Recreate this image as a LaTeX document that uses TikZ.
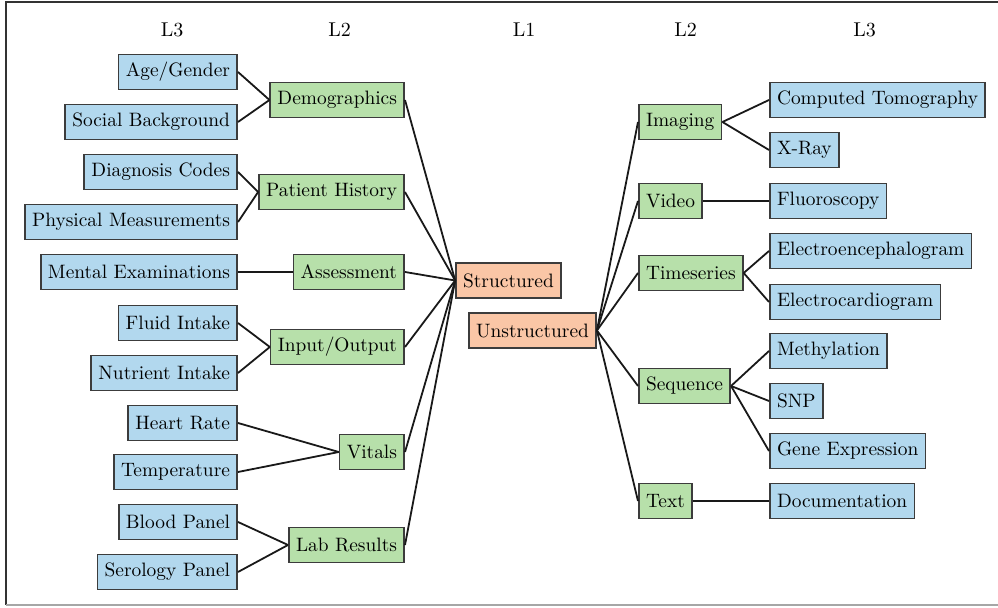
\documentclass[tikz,border=0pt]{standalone}
\usepackage{xcolor}
\definecolor{leafblue}{RGB}{178,216,238}
\definecolor{midgreen}{RGB}{183,224,170}
\definecolor{rootorange}{RGB}{250,198,166}
\definecolor{boxline}{RGB}{60,60,60}
\begin{document}
\begin{tikzpicture}[x=0.5pt,y=-0.5pt,
  box/.style={draw=boxline,line width=0.8pt,minimum height=17.5pt,inner xsep=3.6pt,inner ysep=0pt,font=\fontsize{9.7}{11.5}\selectfont},
  leaf/.style={box,fill=leafblue},
  mid/.style={box,fill=midgreen},
  root/.style={box,fill=rootorange},
  head/.style={font=\fontsize{10}{12}\selectfont},
  link/.style={line width=0.9pt,black!90}]
\useasboundingbox (0,0) rectangle (998,608);
% frame
\draw[line width=0.9pt,black!80] (6,605) -- (6,2) -- (998,2);
\draw[line width=0.9pt,black!35] (6,605) -- (998,605);

% column headings
\node[head] (h1) at (172,30) {L3};
\node[head] (h2) at (339.5,30) {L2};
\node[head] (h3) at (524,30) {L1};
\node[head] (h4) at (685.5,30) {L2};
\node[head] (h5) at (864.5,30) {L3};

% level 1
\node[root] (st) at (508.5,280.5) {Structured};
\node[root] (un) at (532.5,330.5) {Unstructured};

% level 2, structured side
\node[mid,anchor=east] (demo) at (405,100) {Demographics};
\node[mid,anchor=east] (hist) at (405,192) {Patient History};
\node[mid,anchor=east] (asse) at (405,272) {Assessment};
\node[mid,anchor=east] (inout) at (405,347) {Input/Output};
\node[mid,anchor=east] (vit) at (405,452) {Vitals};
\node[mid,anchor=east] (lab) at (405,545) {Lab Results};

% level 3, structured side
\node[leaf,anchor=east] (age) at (238,72) {Age/Gender};
\node[leaf,anchor=east] (soc) at (238,122) {Social Background};
\node[leaf,anchor=east] (diag) at (238,172) {Diagnosis Codes};
\node[leaf,anchor=east] (phys) at (238,222) {Physical Measurements};
\node[leaf,anchor=east] (ment) at (238,272) {Mental Examinations};
\node[leaf,anchor=east] (flu) at (238,323) {Fluid Intake};
\node[leaf,anchor=east] (nut) at (238,373) {Nutrient Intake};
\node[leaf,anchor=east] (hr) at (238,423) {Heart Rate};
\node[leaf,anchor=east] (temp) at (238,472) {Temperature};
\node[leaf,anchor=east] (blood) at (238,522) {Blood Panel};
\node[leaf,anchor=east] (sero) at (238,572) {Serology Panel};

% level 2, unstructured side
\node[mid,anchor=west] (img) at (638,122) {Imaging};
\node[mid,anchor=west] (vid) at (638,201) {Video};
\node[mid,anchor=west] (ts) at (638,273) {Timeseries};
\node[mid,anchor=west] (seq) at (638,386) {Sequence};
\node[mid,anchor=west] (txt) at (638,501) {Text};

% level 3, unstructured side
\node[leaf,anchor=west] (ct) at (769,100) {Computed Tomography};
\node[leaf,anchor=west] (xr) at (769,150) {X-Ray};
\node[leaf,anchor=west] (fl) at (769,201) {Fluoroscopy};
\node[leaf,anchor=west] (eeg) at (769,251) {Electroencephalogram};
\node[leaf,anchor=west] (ecg) at (769,302) {Electrocardiogram};
\node[leaf,anchor=west] (met) at (769,351) {Methylation};
\node[leaf,anchor=west] (snp) at (769,401) {SNP};
\node[leaf,anchor=west] (gex) at (769,451) {Gene Expression};
\node[leaf,anchor=west] (doc) at (769,501) {Documentation};

% links L1 -- L2
\foreach \n in {demo,hist,asse,inout,vit,lab}
  \draw[link] (st.west) -- (\n.east);
\foreach \n in {img,vid,ts,seq,txt}
  \draw[link] (un.east) -- (\n.west);

% links L2 -- L3
\draw[link] (demo.west) -- (age.east);
\draw[link] (demo.west) -- (soc.east);
\draw[link] (hist.west) -- (diag.east);
\draw[link] (hist.west) -- (phys.east);
\draw[link] (asse.west) -- (ment.east);
\draw[link] (inout.west) -- (flu.east);
\draw[link] (inout.west) -- (nut.east);
\draw[link] (vit.west) -- (hr.east);
\draw[link] (vit.west) -- (temp.east);
\draw[link] (lab.west) -- (blood.east);
\draw[link] (lab.west) -- (sero.east);
\draw[link] (img.east) -- (ct.west);
\draw[link] (img.east) -- (xr.west);
\draw[link] (vid.east) -- (fl.west);
\draw[link] (ts.east) -- (eeg.west);
\draw[link] (ts.east) -- (ecg.west);
\draw[link] (seq.east) -- (met.west);
\draw[link] (seq.east) -- (snp.west);
\draw[link] (seq.east) -- (gex.west);
\draw[link] (txt.east) -- (doc.west);
\end{tikzpicture}
\end{document}
